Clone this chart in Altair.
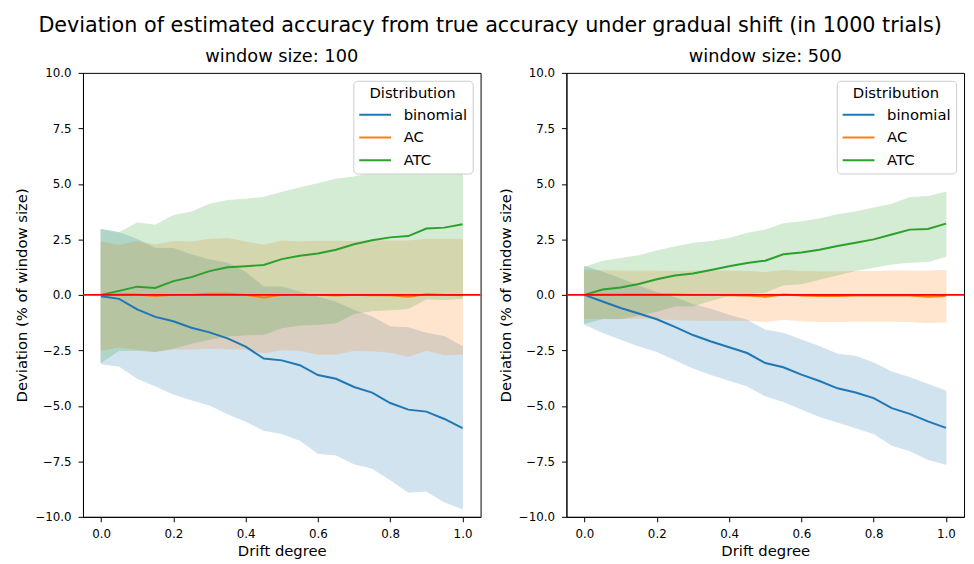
import altair as alt
import pandas as pd

drift = [0.00, 0.05, 0.10, 0.15, 0.20, 0.25, 0.30, 0.35, 0.40, 0.45, 0.50,
         0.55, 0.60, 0.65, 0.70, 0.75, 0.80, 0.85, 0.90, 0.95, 1.00]

series_names = ["binomial", "AC", "ATC"]
series_colors = ["#1f77b4", "#ff7f0e", "#2ca02c"]

# window size 100
bin_mean_100 = [-0.06, -0.18, -0.65, -0.99, -1.19, -1.48, -1.69, -1.96, -2.33, -2.87, -2.95, -3.17, -3.61, -3.78, -4.15, -4.40, -4.87, -5.17, -5.26, -5.59, -6.00]
bin_lo_100 = [-3.10, -3.21, -3.76, -4.10, -4.47, -4.73, -4.96, -5.36, -5.69, -6.10, -6.25, -6.55, -7.14, -7.21, -7.61, -7.81, -8.33, -8.89, -8.84, -9.33, -9.63]
bin_hi_100 = [2.95, 2.80, 2.50, 2.09, 2.09, 1.80, 1.58, 1.43, 1.02, 0.36, 0.36, 0.13, -0.10, -0.33, -0.70, -0.99, -1.44, -1.48, -1.73, -1.88, -2.33]
ac_mean_100 = [0.00, 0.03, 0.02, -0.05, 0.00, 0.00, 0.05, 0.05, 0.00, -0.12, 0.00, 0.00, 0.00, -0.03, 0.00, -0.02, -0.02, -0.08, 0.03, 0.00, -0.02]
ac_lo_100 = [-2.50, -2.35, -2.45, -2.55, -2.44, -2.44, -2.40, -2.44, -2.44, -2.62, -2.47, -2.50, -2.67, -2.67, -2.50, -2.52, -2.58, -2.77, -2.50, -2.70, -2.67]
ac_hi_100 = [2.38, 2.23, 2.40, 2.25, 2.40, 2.38, 2.50, 2.54, 2.38, 2.23, 2.43, 2.38, 2.41, 2.41, 2.40, 2.43, 2.43, 2.43, 2.50, 2.50, 2.50]
atc_mean_100 = [0.00, 0.18, 0.37, 0.31, 0.62, 0.80, 1.07, 1.24, 1.29, 1.35, 1.61, 1.76, 1.86, 2.03, 2.28, 2.46, 2.59, 2.65, 2.99, 3.03, 3.18]
atc_lo_100 = [-3.05, -2.50, -2.50, -2.55, -2.40, -2.18, -2.00, -1.85, -1.80, -1.78, -1.48, -1.36, -1.33, -1.26, -0.84, -0.71, -0.67, -0.62, -0.18, -0.21, -0.15]
atc_hi_100 = [2.94, 2.80, 3.24, 3.14, 3.57, 3.73, 4.08, 4.25, 4.31, 4.39, 4.62, 4.82, 5.01, 5.21, 5.31, 5.49, 5.72, 5.84, 6.05, 6.20, 6.39]

# window size 500
bin_mean_500 = [0.00, -0.30, -0.59, -0.84, -1.10, -1.44, -1.81, -2.10, -2.36, -2.62, -3.07, -3.26, -3.59, -3.88, -4.21, -4.40, -4.65, -5.10, -5.36, -5.70, -5.99]
bin_lo_500 = [-1.32, -1.69, -2.00, -2.30, -2.55, -2.92, -3.29, -3.59, -3.85, -4.10, -4.55, -4.80, -5.14, -5.48, -5.73, -5.99, -6.25, -6.77, -7.02, -7.41, -7.63]
bin_hi_500 = [1.29, 1.02, 0.73, 0.40, 0.10, -0.12, -0.44, -0.65, -0.92, -1.14, -1.59, -1.73, -2.03, -2.33, -2.67, -2.77, -3.07, -3.47, -3.73, -4.03, -4.33]
ac_mean_500 = [0.00, 0.02, 0.02, 0.02, 0.02, 0.02, 0.00, 0.00, -0.02, -0.03, -0.08, 0.02, -0.03, -0.05, -0.05, -0.03, -0.03, -0.03, -0.03, -0.08, -0.05]
ac_lo_500 = [-1.07, -1.05, -1.07, -1.05, -1.07, -1.12, -1.14, -1.14, -1.14, -1.14, -1.20, -1.10, -1.17, -1.20, -1.20, -1.18, -1.18, -1.18, -1.20, -1.25, -1.22]
ac_hi_500 = [1.10, 1.08, 1.07, 1.07, 1.07, 1.05, 1.07, 1.08, 1.07, 1.05, 1.00, 1.10, 1.05, 1.03, 1.03, 1.05, 1.05, 1.08, 1.07, 1.07, 1.10]
atc_mean_500 = [0.00, 0.24, 0.33, 0.49, 0.70, 0.87, 0.96, 1.12, 1.29, 1.44, 1.54, 1.83, 1.91, 2.03, 2.20, 2.35, 2.50, 2.72, 2.94, 2.97, 3.21]
atc_lo_500 = [-1.29, -1.07, -1.07, -0.92, -0.74, -0.50, -0.50, -0.25, -0.03, 0.04, 0.12, 0.45, 0.50, 0.70, 0.90, 1.10, 1.24, 1.39, 1.47, 1.50, 1.73]
atc_hi_500 = [1.24, 1.51, 1.64, 1.76, 1.98, 2.16, 2.32, 2.40, 2.54, 2.77, 2.92, 3.20, 3.29, 3.42, 3.61, 3.73, 3.91, 4.08, 4.38, 4.43, 4.62]

x_ticks = [0.0, 0.2, 0.4, 0.6, 0.8, 1.0]
y_ticks = [-10.0, -7.5, -5.0, -2.5, 0.0, 2.5, 5.0, 7.5, 10.0]


def build_df(groups):
    rows = []
    for name, (mean, lo, hi) in zip(series_names, groups):
        for i, x in enumerate(drift):
            rows.append({"drift": x, "series": name, "mean": mean[i], "lo": lo[i], "hi": hi[i]})
    return pd.DataFrame(rows)


df100 = build_df([(bin_mean_100, bin_lo_100, bin_hi_100),
                  (ac_mean_100, ac_lo_100, ac_hi_100),
                  (atc_mean_100, atc_lo_100, atc_hi_100)])
df500 = build_df([(bin_mean_500, bin_lo_500, bin_hi_500),
                  (ac_mean_500, ac_lo_500, ac_hi_500),
                  (atc_mean_500, atc_lo_500, atc_hi_500)])

color_scale = alt.Scale(domain=series_names, range=series_colors)


def panel(df, title):
    xenc = alt.X("drift:Q", title="Drift degree",
                 scale=alt.Scale(domain=[-0.05, 1.05], nice=False, zero=False),
                 axis=alt.Axis(values=x_ticks, format=".1f", titlePadding=4))
    base = alt.Chart(df)
    band = base.mark_area(opacity=0.2, strokeWidth=1).encode(
        x=xenc,
        y=alt.Y("lo:Q", title="Deviation (% of window size)",
                scale=alt.Scale(domain=[-10, 10], nice=False),
                axis=alt.Axis(values=y_ticks, format=".1f", titlePadding=5)),
        y2="hi:Q",
        fill=alt.Fill("series:N", scale=color_scale, legend=None),
        stroke=alt.Stroke("series:N", scale=color_scale, legend=None),
        detail="series:N",
    )
    line = base.mark_line(strokeWidth=2).encode(
        x=xenc,
        y=alt.Y("mean:Q"),
        color=alt.Color("series:N", scale=color_scale,
                        legend=alt.Legend(title="Distribution", orient="top-right",
                                          symbolType="M-1,0H1.8", symbolStrokeWidth=2,
                                          symbolSize=529, symbolOffset=0,
                                          titleAnchor="middle",
                                          titleFontSize=15, labelFontSize=15,
                                          titleFontWeight="normal",
                                          titleColor="black", labelColor="black",
                                          fillColor="white", strokeColor="#cccccc",
                                          cornerRadius=4, padding=5, offset=8,
                                          rowPadding=2, titlePadding=2,
                                          labelOffset=21)),
        order="series:N",
    )
    rule = alt.Chart(pd.DataFrame({"zero": [0.0]})).mark_rule(color="red", strokeWidth=2).encode(
        y="zero:Q"
    )
    return alt.layer(band, line, rule).properties(
        width=403, height=450,
        title=alt.TitleParams(title, fontSize=18, fontWeight="normal", offset=1),
    )


chart = alt.hconcat(
    panel(df100, "window size: 100"),
    panel(df500, "window size: 500"),
    spacing=15,
).resolve_legend(color="independent").properties(
    title=alt.TitleParams("Deviation of estimated accuracy from true accuracy under gradual shift (in 1000 trials)",
                          fontSize=21, fontWeight="normal", anchor="middle", offset=12),
    padding={"left": 6, "top": 3, "right": 0, "bottom": 0},
).configure(
    font="DejaVu Sans",
).configure_view(
    stroke="black", strokeWidth=1,
).configure_axis(
    grid=False, domainColor="black", tickColor="black", labelColor="black",
    titleColor="black", labelFontSize=12, titleFontSize=15, titleFontWeight="normal",
    tickSize=5, labelPadding=7,
).configure_title(color="black")

chart.save("out.html", embed_options={"renderer": "svg", "actions": False})
